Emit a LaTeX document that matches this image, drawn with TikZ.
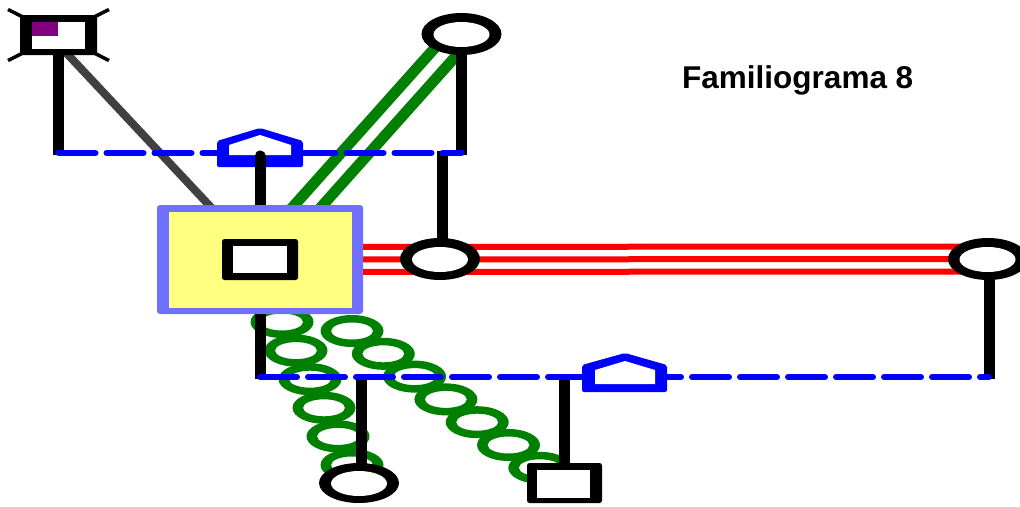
\documentclass[tikz,border=0pt]{standalone}
\usepackage{fontspec}
\setmainfont{Liberation Sans}
\usetikzlibrary{shapes.geometric,calc}
\definecolor{famblue}{RGB}{0,0,255}
\definecolor{boxborder}{RGB}{112,112,255}
\definecolor{boxyellow}{RGB}{255,255,128}
\definecolor{famgreen}{RGB}{0,128,0}
\definecolor{famred}{RGB}{255,0,0}
\definecolor{fampurple}{RGB}{128,0,128}
\definecolor{famgray}{RGB}{64,64,64}
\pgfdeclarelayer{layA}
\pgfdeclarelayer{layB}
\pgfdeclarelayer{layC}
\pgfdeclarelayer{layD}
\pgfsetlayers{layA,layB,layC,layD,main}
\begin{document}
\begin{tikzpicture}[x=1pt,y=-1pt,
  mshape/.style={rectangle,fill=black,inner sep=0pt,outer sep=0pt,rounded corners=2.5pt},
  fshape/.style={ellipse,fill=black,inner sep=0pt,outer sep=0pt},
  holebox/.style={rectangle,fill=white,inner sep=0pt,outer sep=0pt},
  holeell/.style={ellipse,fill=white,inner sep=0pt,outer sep=0pt},
  kin/.style={line width=11pt,black},
  marriage/.style={famblue,line width=6pt,line cap=round,dash pattern=on 37pt off 11pt},
  ring/.style={fill=famgreen,even odd rule},
  housefill/.style={fill=famblue,rounded corners=2pt},
]
\useasboundingbox (0,0) rectangle (1020,506);

% ---- nodes ----
\node[mshape,minimum width=77pt,minimum height=40pt] (s1) at (58.5,35) {};
\node[holebox,minimum width=53pt,minimum height=27pt] (s1i) at (58.5,35.5) {};
\fill[fampurple] (s1i.north west) rectangle ($(s1i.north west)+(26,14)$);

\node[fshape,minimum width=80pt,minimum height=42pt] (e1) at (461.5,34) {};
\node[holeell,minimum width=56pt,minimum height=25pt] (e1i) at (461.5,34.5) {};

\node[rectangle,fill=boxborder,rounded corners=3pt,inner sep=0pt,outer sep=0pt,
      minimum width=206pt,minimum height=109pt] (Y) at (260,259.5) {};
\node[rectangle,fill=boxyellow,inner sep=0pt,outer sep=0pt,
      minimum width=183pt,minimum height=96pt] (Yi) at (260.5,260) {};
\node[mshape,minimum width=76pt,minimum height=41pt] (s2) at (260,259.5) {};
\node[holebox,minimum width=54pt,minimum height=27pt] (s2i) at (260,259.5) {};

\node[fshape,minimum width=80pt,minimum height=42pt] (e2) at (440,259) {};
\node[holeell,minimum width=56pt,minimum height=25pt] (e2i) at (440,259.5) {};

\node[fshape,minimum width=80pt,minimum height=42pt] (e3) at (988,259) {};
\node[holeell,minimum width=56pt,minimum height=25pt] (e3i) at (987.5,259.5) {};

\node[fshape,minimum width=80pt,minimum height=40pt] (e4) at (359,483) {};
\node[holeell,minimum width=56pt,minimum height=25pt] (e4i) at (359,483.5) {};

\node[mshape,minimum width=75pt,minimum height=40pt] (s3) at (564.5,483) {};
\node[holebox,minimum width=53pt,minimum height=28pt] (s3i) at (563.5,484) {};

\node[anchor=base west,inner sep=0pt,font=\fontsize{31.5}{36}\selectfont\bfseries] (title) at (682,88) {Familiograma 8};

% ---- coordinates on the lines ----
\coordinate (m1a) at (58.5,153);
\coordinate (m1b) at (461.5,153);
\coordinate (m1c) at (442.5,153);
\coordinate (h1) at (260,153);
\coordinate (m2a) at (260,377);
\coordinate (m2b) at (989,377);
\coordinate (m2c) at (361,377);
\coordinate (m2d) at (564,377);
\coordinate (h2) at (625,377);

% ---- layer A: cross and coils ----
\begin{pgfonlayer}{layA}
  \draw[line width=3.5pt] ($(s1)+(-50.5,-25.5)$) -- ($(s1)+(50.5,25.5)$);
  \draw[line width=3.5pt] ($(s1)+(-50.5,25.5)$) -- ($(s1)+(50.5,-25.5)$);
  \foreach \i in {0,...,5}
    \fill[ring] ({282+14*\i},{322+28.6*\i}) ellipse [x radius=31.5pt, y radius=16pt]
                ({282+14*\i},{322+28.6*\i}) ellipse [x radius=21pt, y radius=8.5pt];
  \foreach \i in {0,...,6}
    \fill[ring] ({352+31.3*\i},{331+22.8*\i}) ellipse [x radius=31.5pt, y radius=16pt]
                ({352+31.3*\i},{331+22.8*\i}) ellipse [x radius=21pt, y radius=8.5pt];
\end{pgfonlayer}

% ---- layer B: relationship lines and descent lines ----
\begin{pgfonlayer}{layB}
  \draw[famgray,line width=8pt] ($(s1.center)+(-9,0)$) -- (Y.center);
  \draw[famgreen,line width=11pt,double=white,double distance=10pt] (e1.center) -- (Y.center);
  \foreach \d in {-12.5,0,12.5}
    \draw[famred,line width=6pt] ($(Y.center)+(0,\d)$) -- ($(e3.center)+(0,\d)$);
  \draw[kin] (s1.center) -- ($(m1a)+(0,2)$);
  \draw[kin] (e1.center) -- ($(m1b)+(0,2)$);
  \draw[kin] ($(m1c)+(0,-2)$) -- (m1c |- e2.center);
  \draw[kin] (Y.center) -- ($(m2a)+(0,2)$);
  \draw[kin] (m2b |- e3.center) -- ($(m2b)+(0,2)$);
  \draw[kin] ($(m2c)+(0,-2)$) -- (m2c |- e4.center);
  \draw[kin] ($(m2d)+(0,-2)$) -- (m2d |- s3.center);
\end{pgfonlayer}

% ---- layer C: marriage lines ----
\begin{pgfonlayer}{layC}
  \draw[marriage] (m1a) -- (m1b);
  \draw[marriage] (m2a) -- (m2b);
\end{pgfonlayer}

% ---- layer D: houses ----
\begin{pgfonlayer}{layD}
  \fill[housefill] ($(h1)+(-43,14)$) -- ($(h1)+(-43,-12)$) -- ($(h1)+(0,-25)$) -- ($(h1)+(43,-12)$) -- ($(h1)+(43,14)$) -- cycle;
  \fill[white] ($(h1)+(-31,2)$) -- ($(h1)+(-31,-8)$) -- ($(h1)+(0,-18)$) -- ($(h1)+(31,-8)$) -- ($(h1)+(31,2)$) -- cycle;
  \draw[kin,line cap=round] ($(h1)+(0,3)$) -- (Y.north);
  \fill[housefill] ($(h2)+(-43,15)$) -- ($(h2)+(-43,-12)$) -- ($(h2)+(0,-24)$) -- ($(h2)+(42,-12)$) -- ($(h2)+(42,15)$) -- cycle;
  \fill[white] ($(h2)+(-30,7)$) -- ($(h2)+(-30,-7)$) -- ($(h2)+(0,-16)$) -- ($(h2)+(30,-7)$) -- ($(h2)+(30,7)$) -- cycle;
\end{pgfonlayer}
\end{tikzpicture}
\end{document}
